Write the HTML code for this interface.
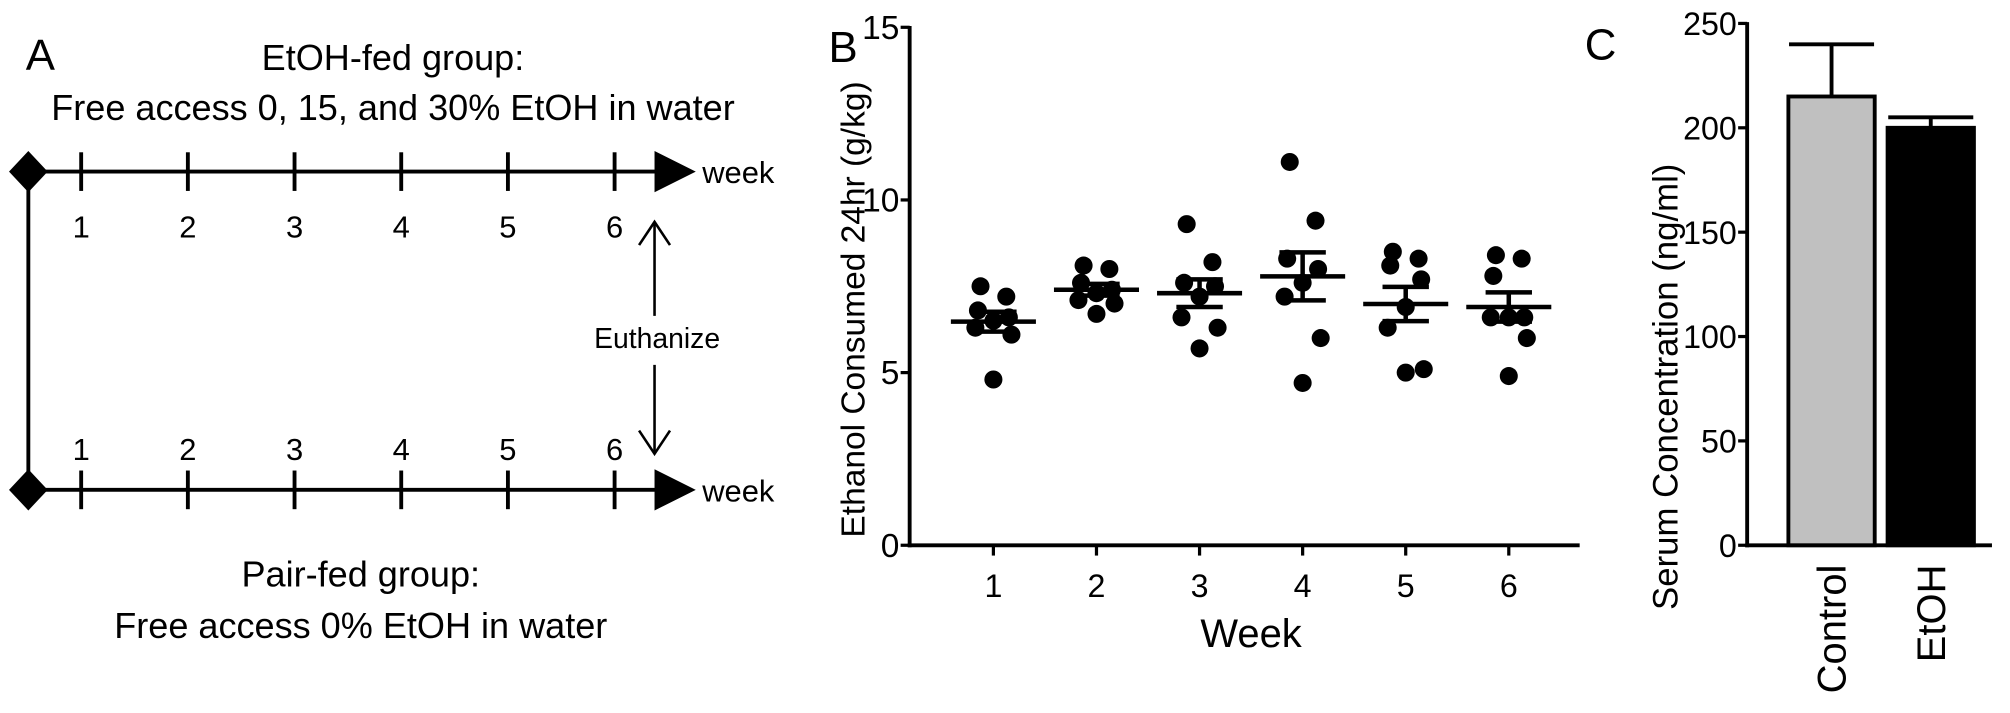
<!DOCTYPE html>
<html><head><meta charset="utf-8"><style>
html,body{margin:0;padding:0;background:#fff;width:2010px;height:713px;overflow:hidden}
svg{display:block}
text{font-family:"Liberation Sans",Arial,sans-serif;fill:#000}
</style></head><body>
<svg id="fig" width="2010" height="713" viewBox="0 0 1560 553">
<g id="panelA" stroke="#000" stroke-width="3" fill="none">
  <text x="20" y="54" font-size="34" stroke="none">A</text>
  <text x="305" y="54" font-size="28" text-anchor="middle" stroke="none">EtOH-fed group:</text>
  <text x="305" y="93" font-size="28" text-anchor="middle" stroke="none">Free access 0, 15, and 30% EtOH in water</text>
  <line x1="22" y1="133" x2="22" y2="380"/>
  <line x1="22" y1="133" x2="515" y2="133"/>
  <line x1="22" y1="380" x2="515" y2="380"/>
  <polygon points="7,133 22,117 37,133 22,149" fill="#000" stroke="none"/>
  <polygon points="7,380 22,364 37,380 22,396" fill="#000" stroke="none"/>
  <polygon points="508,117 540,133 508,149" fill="#000" stroke="none"/>
  <polygon points="508,364 540,380 508,396" fill="#000" stroke="none"/>
  <text x="545" y="142" font-size="24" stroke="none">week</text>
  <text x="545" y="389" font-size="24" stroke="none">week</text>
  <g id="ticksA"></g>
  <text x="510" y="270" font-size="22" text-anchor="middle" stroke="none">Euthanize</text>
  <line x1="508" y1="172" x2="508" y2="245" stroke-width="2"/>
  <polyline points="496,190 508,172 520,190" stroke-width="2"/>
  <line x1="508" y1="283" x2="508" y2="352" stroke-width="2"/>
  <polyline points="496,334 508,352 520,334" stroke-width="2"/>
  <text x="280" y="455" font-size="28" text-anchor="middle" stroke="none">Pair-fed group:</text>
  <text x="280" y="495" font-size="28" text-anchor="middle" stroke="none">Free access 0% EtOH in water</text>
</g>
<g id="panelB"></g>
<g id="panelC"></g>
</svg>
<script>
const weeks=[1,2,3,4,5,6];
const wk1=[7.5,7.2,6.8,6.6,6.5,6.3,6.1,4.8];
const wk2=[8.1,8.0,7.6,7.4,7.3,7.1,7.0,6.7];
const wk3=[9.3,8.2,7.6,7.5,7.2,6.6,6.3,5.7];
const wk4=[11.1,9.4,8.3,8.0,7.6,7.2,6.0,4.7];
const wk5=[8.5,8.3,8.1,7.7,6.9,6.3,5.1,5.0];
const wk6=[8.4,8.3,7.8,6.6,6.6,6.6,6.0,4.9];
const yTicksB=[0,5,10,15];
const groupsC=["Control","EtOH"];
const meansC=[215,200];
const errC=[25,5];
const yTicksC=[0,50,100,150,200,250];

const NS="http://www.w3.org/2000/svg";
function mk(tag,attrs,parent){const e=document.createElementNS(NS,tag);for(const k in attrs)e.setAttribute(k,attrs[k]);parent.appendChild(e);return e;}

const tA=document.getElementById('ticksA');
const tickXA=w=>63+(w-1)*82.8;
weeks.forEach(w=>{
  const x=tickXA(w);
  let l=mk('line',{x1:x,y1:118,x2:x,y2:148},tA);
  
  
  l=mk('line',{x1:x,y1:365,x2:x,y2:395},tA);
  
  
  let t=mk('text',{x:x,y:184,'font-size':24,'text-anchor':'middle',stroke:'none'},tA);t.textContent=w;
  
  
  t=mk('text',{x:x,y:357,'font-size':24,'text-anchor':'middle',stroke:'none'},tA);t.textContent=w;
  
  
});

const B=document.getElementById('panelB');
const yB=v=>423-v*26.8;
const xB=w=>771+(w-1)*80;
const axB=706;
let e=mk('text',{x:643,y:48,'font-size':34},B);e.textContent='B';


e=mk('line',{x1:axB,y1:yB(15)-1,x2:axB,y2:424.5,stroke:'#000','stroke-width':3},B);


e=mk('line',{x1:axB-1.5,y1:yB(0),x2:1226,y2:yB(0),stroke:'#000','stroke-width':3},B);


yTicksB.forEach(v=>{
  let l=mk('line',{x1:axB-7,y1:yB(v),x2:axB,y2:yB(v),stroke:'#000','stroke-width':2.5},B);
  
  
  let t=mk('text',{x:axB-8,y:yB(v)+9,'font-size':26,'text-anchor':'end'},B);t.textContent=v;
  
  
});
const seriesB=[wk1,wk2,wk3,wk4,wk5,wk6];
const offs=[-10,10,-12,12,0,-14,14,0];
weeks.forEach((w,i)=>{
  const x=xB(w);
  let l=mk('line',{x1:x,y1:yB(0),x2:x,y2:yB(0)+8,stroke:'#000','stroke-width':2.5},B);
  
  
  let t=mk('text',{x:x,y:463,'font-size':25,'text-anchor':'middle'},B);t.textContent=w;
  
  
  const d=seriesB[i];
  const sorted=[...d].sort((a,b)=>b-a);
  sorted.forEach((v,j)=>{
    const c=mk('circle',{cx:x+offs[j],cy:yB(v),r:7,fill:'#000'},B);
    
    
  });
  const n=d.length,m=d.reduce((a,b)=>a+b,0)/n;
  const sd=Math.sqrt(d.reduce((a,b)=>a+(b-m)*(b-m),0)/(n-1));const se=sd/Math.sqrt(n);
  let ml=mk('line',{x1:x-33,y1:yB(m),x2:x+33,y2:yB(m),stroke:'#000','stroke-width':3.5},B);
  
  
  let el=mk('line',{x1:x,y1:yB(m+se),x2:x,y2:yB(m-se),stroke:'#000','stroke-width':3.5},B);
  
  
  [m+se,m-se].forEach(v=>{
    let c=mk('line',{x1:x-18,y1:yB(v),x2:x+18,y2:yB(v),stroke:'#000','stroke-width':3.5},B);
    
    
  });
});
e=mk('text',{x:971,y:502,'font-size':31,'text-anchor':'middle'},B);e.textContent='Week';


e=mk('text',{x:0,y:0,'font-size':26,'text-anchor':'middle',transform:'translate(671,240) rotate(-90)'},B);e.textContent='Ethanol Consumed 24hr (g/kg)';



const C=document.getElementById('panelC');
const yC=v=>423-v*1.62;
const axC=1356;
e=mk('text',{x:1230,y:46,'font-size':34},C);e.textContent='C';


e=mk('line',{x1:axC,y1:yC(250)-1,x2:axC,y2:424.5,stroke:'#000','stroke-width':3},C);


e=mk('line',{x1:axC-1.5,y1:yC(0),x2:1546,y2:yC(0),stroke:'#000','stroke-width':3},C);


yTicksC.forEach(v=>{
  let l=mk('line',{x1:axC-7,y1:yC(v),x2:axC,y2:yC(v),stroke:'#000','stroke-width':2.5},C);
  
  
  let t=mk('text',{x:axC-8,y:yC(v)+9,'font-size':25,'text-anchor':'end'},C);t.textContent=v;
  
  
});
const fills=['#c0c0c0','#000'];
groupsC.forEach((g,i)=>{
  const x0=1388+i*77,w=67,cx=x0+w/2;
  let el=mk('line',{x1:cx,y1:yC(meansC[i]),x2:cx,y2:yC(meansC[i]+errC[i]),stroke:'#000','stroke-width':3},C);
  
  
  let cap=mk('line',{x1:cx-33,y1:yC(meansC[i]+errC[i]),x2:cx+33,y2:yC(meansC[i]+errC[i]),stroke:'#000','stroke-width':3},C);
  
  
  let r=mk('rect',{x:x0,y:yC(meansC[i]),width:w,height:yC(0)-yC(meansC[i]),fill:fills[i],stroke:'#000','stroke-width':3},C);
  
  
  let t=mk('text',{x:0,y:0,'font-size':31,'text-anchor':'end',transform:`translate(${cx+11},438) rotate(-90)`},C);t.textContent=g;
  
  
});
e=mk('text',{x:0,y:0,'font-size':27,'text-anchor':'middle',transform:'translate(1302,300) rotate(-90)'},C);e.textContent='Serum Concentration (ng/ml)';


</script>
</body></html>
